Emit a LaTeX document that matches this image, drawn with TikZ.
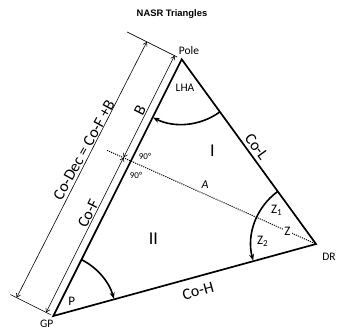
\documentclass[tikz,border=0pt]{standalone}
\usepackage{fontspec}
\setmainfont{Carlito}
\newfontfamily\titlefont{Liberation Sans}
\usetikzlibrary{calc,arrows.meta}
\begin{document}
\begin{tikzpicture}[x=1pt,y=1pt,
  side/.style={line width=1.7pt,line join=miter},
  thin/.style={line width=0.6pt},
  dimarrow/.style={thin,{Straight Barb[length=3.5pt,width=4.5pt]}-{Straight Barb[length=3.5pt,width=4.5pt]}},
  anglearc/.style={line width=1.6pt,-{Stealth[length=6.5pt,width=5pt]}},
  dotline/.style={line width=1pt,dash pattern=on 1.1pt off 1.1pt},
  lbl/.style={inner sep=0pt,font=\fontsize{11.5}{12}\selectfont},
  big/.style={inner sep=0pt,font=\fontsize{16}{17}\selectfont},
  huge/.style={inner sep=0pt,font=\fontsize{18}{19}\selectfont},
  small/.style={inner sep=0pt,font=\fontsize{9}{10}\selectfont},
  zlbl/.style={inner sep=0pt,font=\fontsize{13}{14}\selectfont}]
\useasboundingbox (0,0) rectangle (339,-335);
% vertices
\coordinate (Pole) at (181.7,-59.3);
\coordinate (GP) at (53.3,-316);
\coordinate (DR) at (316,-244);
\coordinate (F) at ($(GP)!0.6038!(Pole)$);
% offsets
\coordinate (Gi) at ($(GP)!8pt!90:(Pole)$);
\coordinate (Pi) at ($(Pole)!8pt!-90:(GP)$);
\coordinate (Fi) at ($(F)!8pt!-90:(GP)$);
\coordinate (Go) at ($(GP)!41pt!90:(Pole)$);
\coordinate (Po) at ($(Pole)!39pt!-90:(GP)$);
\coordinate (Ge1) at ($(GP)!3pt!90:(Pole)$);
\coordinate (Ge2) at ($(GP)!48pt!90:(Pole)$);
\coordinate (Pe1) at ($(Pole)!5pt!-90:(GP)$);
\coordinate (Pe2) at ($(Pole)!61pt!-90:(GP)$);
\coordinate (Fl) at ($(F)!-26pt!(DR)$);
% triangle
\draw[side] (Pole) -- (DR) -- (GP) -- cycle;
% dotted perpendicular
\draw[dotline] (Fl) -- (DR);
% extension lines
\draw[thin] (Ge1) -- (Ge2);
\draw[thin] (Pe1) -- (Pe2);
% dimension arrows
\draw[dimarrow] (Go) -- (Po);
\draw[dimarrow] (Fi) -- (Pi);
\draw[dimarrow] (Fi) -- (Gi);
% angle arcs
\draw[anglearc] ($(Pole)!65pt!(DR)$) arc[start angle=-54, end angle=-116.2, radius=65];
\draw[anglearc] ($(GP)!63pt!(Pole)$) arc[start angle=63.4, end angle=15.8, radius=63];
\draw[anglearc] ($(DR)!65pt!(Pole)$) arc[start angle=126, end angle=194.8, radius=65];
% labels
\node[inner sep=0pt,font=\titlefont\bfseries\fontsize{9.4}{10}\selectfont] (title) at (172,-14) {NASR Triangles};
\node[lbl] (lpole) at (189,-50.7) {Pole};
\node[lbl] (llha) at (185,-88.3) {LHA};
\node[lbl] (ldr) at (329,-257.3) {DR};
\node[lbl] (lgp) at (46.7,-323.3) {GP};
\node[huge] (lI) at (212.3,-150.7) {I};
\node[huge] (lII) at (153.3,-239) {II};
\node[big,rotate=-54] (lcol) at (256.7,-146.7) {Co-L};
\node[big,rotate=15.3] (lcoh) at (198,-291) {Co-H};
\node[big,rotate=63.4] (lcof) at (88.3,-213.3) {Co-F};
\node[big,rotate=63.4] (lb) at (140,-110) {B};
\node[big,rotate=61] (lcodec) at (84,-150) {Co-Dec = Co-F +B};
\node[inner sep=0pt,font=\itshape\fontsize{12}{13}\selectfont] (la) at (205,-185) {A};
\node[small] (l90a) at (145,-156.7) {90°};
\node[small] (l90b) at (136,-175) {90°};
\node[zlbl] (lz1) at (276.7,-210) {Z\textsubscript{1}};
\node[zlbl] (lz2) at (262.7,-241.7) {Z\textsubscript{2}};
\node[zlbl,fill=white,inner sep=1.5pt] (lz) at (287.3,-231.7) {Z};
\node[zlbl] (lp) at (71.7,-301.7) {P};
\end{tikzpicture}
\end{document}
